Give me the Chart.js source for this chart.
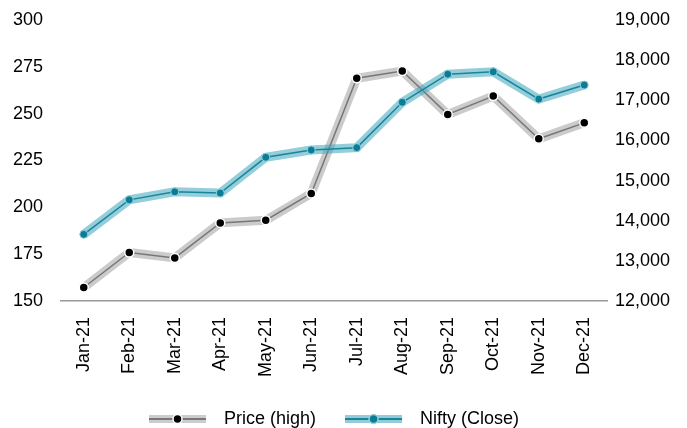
<!DOCTYPE html>
<html>
<head>
<meta charset="utf-8">
<script src="https://cdn.jsdelivr.net/npm/chart.js@4.4.0/dist/chart.umd.min.js"></script>
<style>
  html, body { margin: 0; padding: 0; background: #fff; }
  #wrap { width: 687px; height: 428px; }
</style>
</head>
<body>
<div id="wrap"><canvas id="chart"></canvas></div>
<script>
const months = ['Jan-21', 'Feb-21', 'Mar-21', 'Apr-21', 'May-21', 'Jun-21', 'Jul-21', 'Aug-21', 'Sep-21', 'Oct-21', 'Nov-21', 'Dec-21'];
const priceHigh = [157.2, 175.9, 173.0, 191.7, 193.1, 207.4, 268.9, 272.8, 249.6, 259.4, 236.6, 245.1];
const niftyClose = [13660, 14520, 14720, 14690, 15580, 15760, 15820, 16950, 17650, 17710, 17030, 17380];
const leftTicks = [150, 175, 200, 225, 250, 275, 300];
const rightTicks = [12000, 13000, 14000, 15000, 16000, 17000, 18000, 19000];

const FONT = 'Liberation Sans, Arial, sans-serif';

// icono de leyenda: banda ancha + linea fina + punto
function legendIcon(band, line, dot, ring) {
  const c = document.createElement('canvas');
  c.width = 66; c.height = 12;
  const g = c.getContext('2d');
  g.fillStyle = band;
  g.fillRect(0, 2, 57, 8);
  g.fillStyle = line;
  g.fillRect(0, 5, 57, 2);
  g.beginPath();
  g.arc(28.5, 6, 4.5, 0, Math.PI * 2);
  g.fillStyle = dot;
  g.fill();
  g.lineWidth = 1.5;
  g.strokeStyle = ring;
  g.stroke();
  return c;
}
const priceIcon = legendIcon('#cccccc', '#777777', '#000000', '#ffffff');
const niftyIcon = legendIcon('#93ccd8', '#1a8499', '#0a7d96', '#9fd3de');

const ctx = document.getElementById('chart').getContext('2d');
new Chart(ctx, {
  type: 'line',
  data: {
    labels: months,
    datasets: [
      {
        label: 'Nifty (Close)',
        data: niftyClose,
        yAxisID: 'y2',
        borderColor: '#1a8499',
        borderWidth: 1.5,
        pointRadius: 4,
        pointBackgroundColor: '#0a7d96',
        pointBorderColor: 'rgba(160,212,224,0.9)',
        pointBorderWidth: 1,
        tension: 0,
        order: 1,
        icon: niftyIcon
      },
      {
        label: 'halo-nifty',
        data: niftyClose,
        yAxisID: 'y2',
        borderColor: 'rgba(60,165,188,0.55)',
        borderWidth: 9,
        pointRadius: 0,
        tension: 0,
        order: 2
      },
      {
        label: 'Price (high)',
        data: priceHigh,
        yAxisID: 'y',
        borderColor: '#777777',
        borderWidth: 1.5,
        pointRadius: 4.5,
        pointBackgroundColor: '#000000',
        pointBorderColor: '#ffffff',
        pointBorderWidth: 1.5,
        tension: 0,
        order: 3,
        icon: priceIcon
      },
      {
        label: 'halo-price',
        data: priceHigh,
        yAxisID: 'y',
        borderColor: 'rgba(190,190,190,0.8)',
        borderWidth: 9,
        pointRadius: 0,
        tension: 0,
        order: 4
      }
    ]
  },
  options: {
    responsive: true,
    maintainAspectRatio: false,
    animation: false,
    layout: { padding: { top: 20, left: 13, right: 0, bottom: -10 } },
    scales: {
      x: {
        offset: true,
        grid: { display: false, drawTicks: false },
        border: { display: true, color: '#999999', width: 1.5 },
        ticks: {
          color: '#000',
          font: { family: FONT, size: 18 },
          minRotation: 90,
          maxRotation: 90,
          padding: 16
        },
        afterFit: (scale) => { scale.height = 80; }
      },
      y: {
        position: 'left',
        min: 150,
        max: 300,
        afterBuildTicks: (scale) => { scale.ticks = leftTicks.map(v => ({ value: v })); },
        grid: { display: false, drawTicks: false },
        border: { display: false },
        ticks: {
          color: '#000',
          font: { family: FONT, size: 18 },
          crossAlign: 'far',
          padding: 0
        },
        afterFit: (scale) => { scale.width = 48; }
      },
      y2: {
        position: 'right',
        min: 12000,
        max: 19000,
        afterBuildTicks: (scale) => { scale.ticks = rightTicks.map(v => ({ value: v })); },
        grid: { display: false, drawTicks: false },
        border: { display: false },
        ticks: {
          color: '#000',
          font: { family: FONT, size: 18 },
          padding: 8,
          callback: (v) => v.toLocaleString('en-US')
        },
        afterFit: (scale) => { scale.width = 80; }
      }
    },
    plugins: {
      tooltip: { enabled: false },
      legend: {
        position: 'bottom',
        fullSize: false,
        labels: {
          color: '#000',
          font: { family: FONT, size: 18 },
          usePointStyle: true,
          pointStyleWidth: 66,
          padding: 29,
          filter: (item, data) => !!data.datasets[item.datasetIndex].icon,
          sort: (a, b) => b.datasetIndex - a.datasetIndex,
          generateLabels: (chart) => chart.data.datasets.map((ds, i) => ({
            text: ds.label,
            datasetIndex: i,
            pointStyle: ds.icon,
            fontColor: '#000',
            lineWidth: 0,
            hidden: false
          }))
        }
      }
    }
  }
});
</script>
</body>
</html>
